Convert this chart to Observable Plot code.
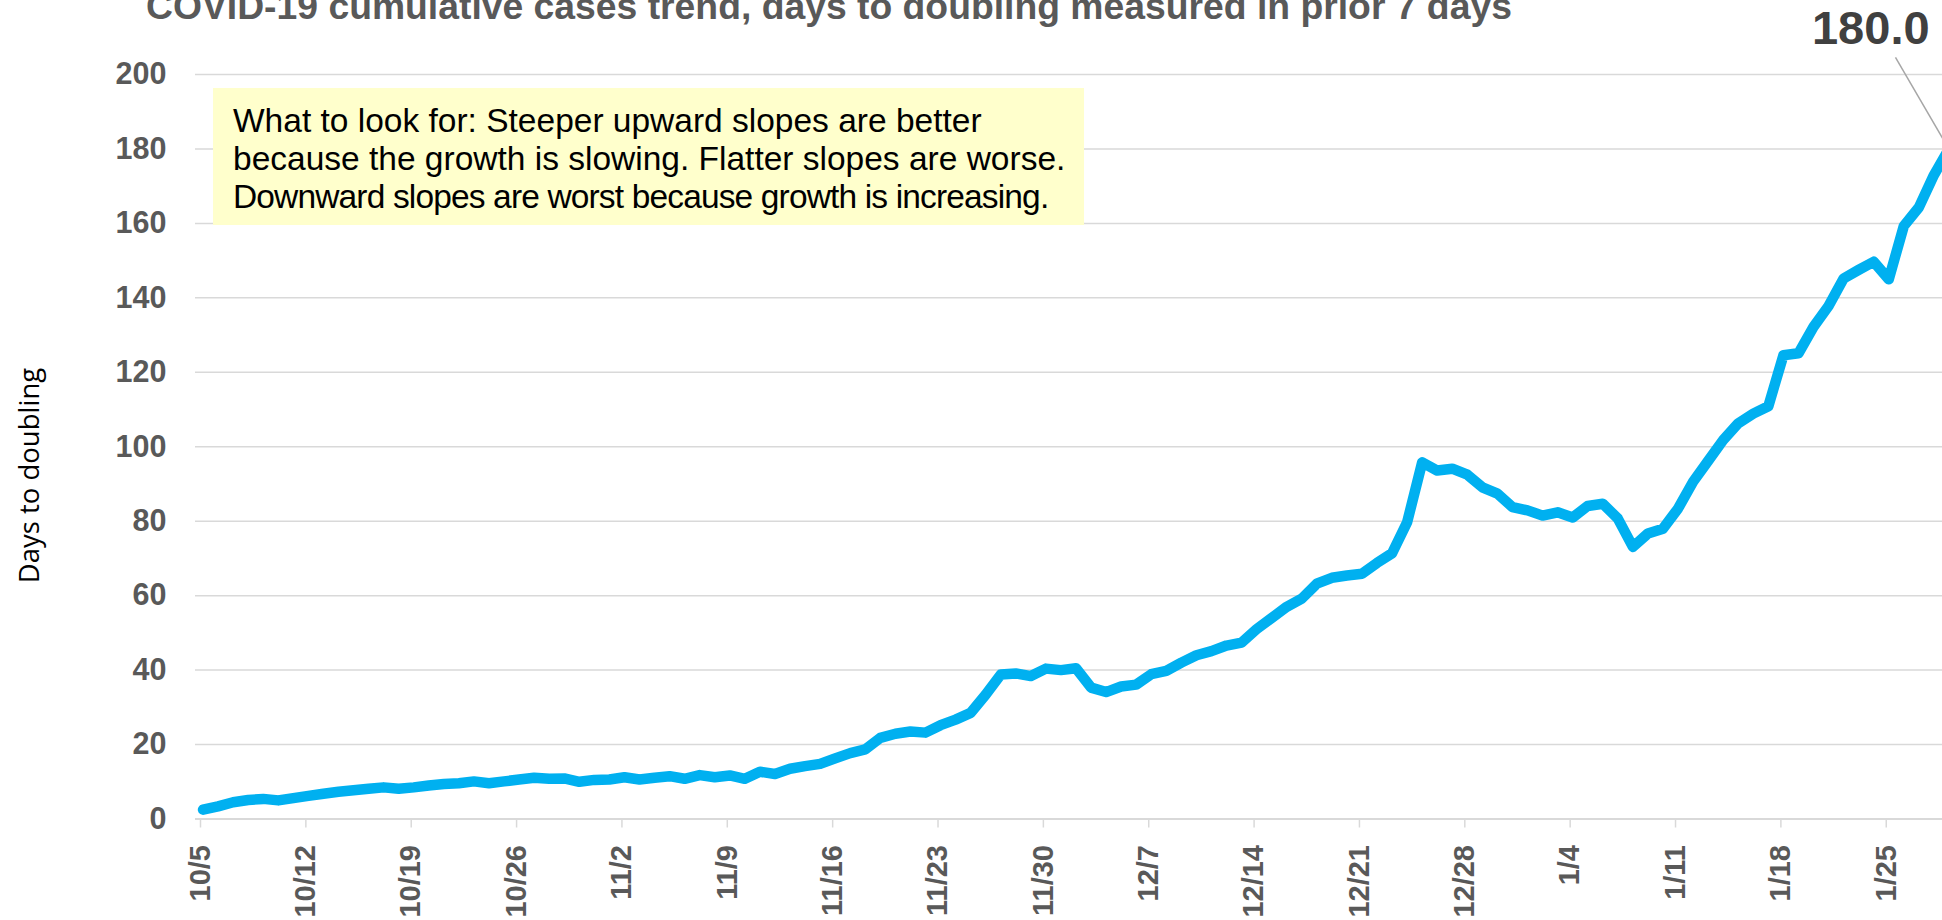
<!DOCTYPE html>
<html><head><meta charset="utf-8">
<script src="https://cdn.jsdelivr.net/npm/d3@7"></script>
<script src="https://cdn.jsdelivr.net/npm/@observablehq/plot@0.6"></script>
<style>
html,body{margin:0;padding:0;background:#fff;overflow:hidden;width:1942px;height:920px;}
#wrap{position:relative;width:1942px;height:920px;overflow:hidden;}
#chart{position:absolute;left:0;top:0;width:1956px;height:920px;}
#chart svg{max-width:none !important;}
#title{position:absolute;left:146px;top:-12px;font:bold 37.3px/37px "Liberation Sans",Arial,sans-serif;color:#595959;white-space:nowrap;}
#note{position:absolute;left:213px;top:88px;width:871px;height:137px;background:#FFFFCC;box-sizing:border-box;padding:14px 0 0 20px;font:33.5px/37.75px "Liberation Sans",Arial,sans-serif;color:#000;white-space:nowrap;}
#note .l3{letter-spacing:-0.85px;}
</style></head>
<body>
<div id="wrap"><div id="chart"></div><div id="title"></div><div id="note"></div></div>
<script>
const titleText = "COVID-19 cumulative cases trend, days to doubling measured in prior 7 days";
const noteLines = [
  "What to look for: Steeper upward slopes are better",
  "because the growth is slowing. Flatter slopes are worse.",
  "Downward slopes are worst because growth is increasing."
];
const seriesName = "Days to doubling";
const startDate = new Date(Date.UTC(2020, 9, 5));
const values = [
  2.5, 3.4, 4.5, 5.1, 5.4, 5.0, 5.6, 6.2, 6.8, 7.3,
  7.7, 8.1, 8.5, 8.1, 8.5, 9.0, 9.4, 9.6, 10.1, 9.6,
  10.1, 10.6, 11.1, 10.8, 10.9, 10.0, 10.5, 10.6, 11.2, 10.6,
  11.1, 11.5, 10.8, 11.8, 11.2, 11.7, 10.8, 12.7, 12.1, 13.5,
  14.2, 14.8, 16.3, 17.7, 18.7, 21.8, 22.9, 23.5, 23.2, 25.2,
  26.7, 28.5, 33.4, 38.8, 39.1, 38.4, 40.4, 40.0, 40.5, 35.3,
  34.1, 35.6, 36.1, 38.9, 39.8, 42.0, 44.0, 45.1, 46.6, 47.4,
  51.0, 54.0, 57.0, 59.2, 63.2, 64.8, 65.4, 65.9, 68.8, 71.4,
  79.7, 95.8, 93.6, 94.1, 92.5, 89.1, 87.4, 83.8, 82.9, 81.5,
  82.4, 81.0, 84.1, 84.7, 80.7, 73.1, 76.7, 78.0, 83.4, 90.6,
  96.2, 101.8, 106.3, 108.9, 110.9, 124.6, 125.1, 132.2, 137.8, 145.2,
  147.5, 149.7, 145.0, 159.3, 164.3, 173.0, 180.0
];
const tickLabels = ["10/5","10/12","10/19","10/26","11/2","11/9","11/16","11/23","11/30","12/7","12/14","12/21","12/28","1/4","1/11","1/18","1/25"];
const yTicks = [0, 20, 40, 60, 80, 100, 120, 140, 160, 180, 200];

document.getElementById("title").textContent = titleText;
const note = document.getElementById("note");
noteLines.forEach((t, i) => {
  const s = document.createElement("div");
  s.className = "l" + (i + 1);
  s.textContent = t;
  note.appendChild(s);
});

const data = values.map((v, i) => ({date: d3.utcHour.offset(d3.utcDay.offset(startDate, i), 12), v}));
const tickDates = tickLabels.map((_, i) => d3.utcDay.offset(startDate, 7 * i));
const labelByTime = new Map(tickDates.map((d, i) => [+d, tickLabels[i]]));
const last = data[data.length - 1];

const chart = Plot.plot({
  width: 1956, height: 920,
  marginTop: 74, marginBottom: 101.5, marginLeft: 195, marginRight: 0,
  style: {fontFamily: '"Liberation Sans", Arial, sans-serif', background: "transparent", overflow: "visible", maxWidth: "none"},
  x: {type: "utc", domain: [startDate, d3.utcDay.offset(startDate, values.length)]},
  y: {domain: [0, 200]},
  marks: [
    Plot.gridY(yTicks, {stroke: "#d9d9d9", strokeOpacity: 1, strokeWidth: 1.5}),
    Plot.axisY(yTicks, {tickSize: 0, tickPadding: 29, fontSize: 30.5, fontWeight: "bold", fill: "#595959", label: null}),
    Plot.axisX(tickDates, {tickSize: 9, stroke: "#d9d9d9", strokeWidth: 1.5, tickPadding: 17, tickRotate: -90, dx: 5,
      tickFormat: d => labelByTime.get(+d), fontSize: 29, fontWeight: "bold", fill: "#595959", label: null}),
    Plot.ruleY([0], {stroke: "#d9d9d9", strokeWidth: 2}),
    Plot.line(data, {x: "date", y: "v", stroke: "#00B0F0", strokeWidth: 10.5, strokeLinejoin: "round", strokeLinecap: "round"}),
    Plot.text([last], {x: "date", y: "v", text: d => d.v.toFixed(1), dx: -137, dy: -120, textAnchor: "start",
      fontSize: 47, fontWeight: "bold", fill: "#404040"}),
    Plot.text([seriesName], {text: d => d, frameAnchor: "left", textAnchor: "middle", dx: -165, dy: 28.75, rotate: -90,
      fontSize: 27.5, fontFamily: "Open Sans", fill: "#000"})
  ]
});
document.getElementById("chart").appendChild(chart);

// leader line from the data label to the last point, through the plot's scales
const px = chart.scale("x").apply(last.date);
const py = chart.scale("y").apply(last.v);
d3.select(chart).append("line")
  .attr("x1", px - 53).attr("y1", py - 91)
  .attr("x2", px).attr("y2", py)
  .attr("stroke", "#a6a6a6").attr("stroke-width", 1.5);
</script>
</body></html>
